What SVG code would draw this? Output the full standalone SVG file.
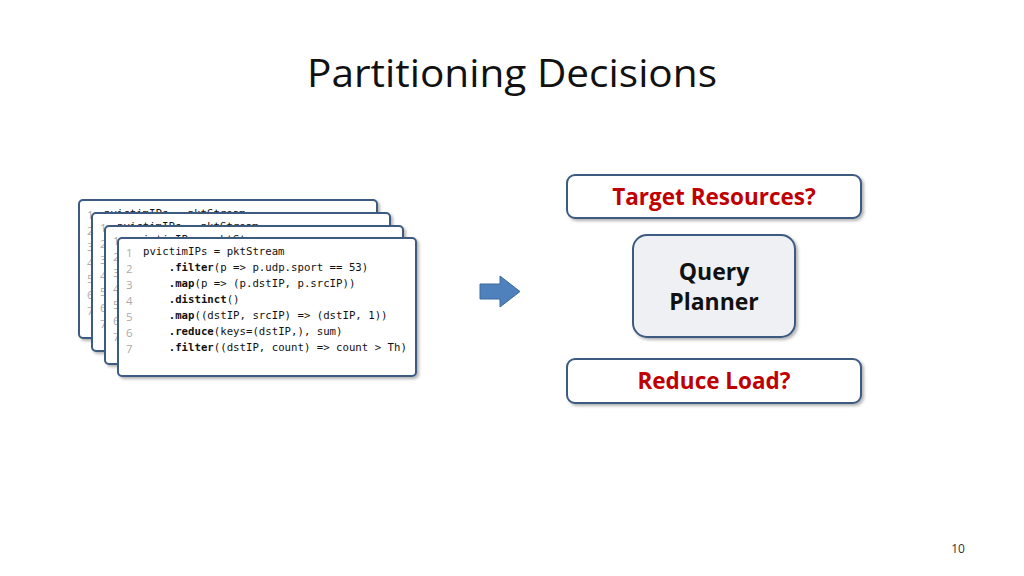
<svg xmlns="http://www.w3.org/2000/svg" width="1024" height="576" viewBox="0 0 1024 576">
<defs>
<filter id="sh" x="-10%" y="-10%" width="130%" height="130%"><feDropShadow dx="2" dy="2" stdDeviation="1.5" flood-color="#000" flood-opacity="0.3"/></filter>
<g id="code">
<rect x="0" y="0" width="298" height="138" rx="4" fill="#fff" stroke="#3d5a80" stroke-width="2" filter="url(#sh)"/>
<g class="ln"><text x="8" y="19">1</text><text x="8" y="35">2</text><text x="8" y="51">3</text><text x="8" y="67">4</text><text x="8" y="83">5</text><text x="8" y="99">6</text><text x="8" y="115">7</text></g>
<g class="cd">
<text x="25" y="17">pvictimIPs = pktStream</text>
<text x="25" y="33">    <tspan font-weight="bold">.filter</tspan>(p =&gt; p.udp.sport == 53)</text>
<text x="25" y="49">    <tspan font-weight="bold">.map</tspan>(p =&gt; (p.dstIP, p.srcIP))</text>
<text x="25" y="65">    <tspan font-weight="bold">.distinct</tspan>()</text>
<text x="25" y="81">    <tspan font-weight="bold">.map</tspan>((dstIP, srcIP) =&gt; (dstIP, 1))</text>
<text x="25" y="97">    <tspan font-weight="bold">.reduce</tspan>(keys=(dstIP,), sum)</text>
<text x="25" y="113">    <tspan font-weight="bold">.filter</tspan>((dstIP, count) =&gt; count &gt; Th)</text>
</g>
</g>
</defs>
<style>
.ln text{font-family:"Open Sans",sans-serif;font-size:11.5px;fill:#aaa}
.cd text{font-family:"DejaVu Sans Mono",monospace;font-size:10.7px;fill:#111;white-space:pre}
.box{fill:#fff;stroke:#3d5a80;stroke-width:2}
.q{font-family:"Open Sans",sans-serif;font-weight:bold;font-size:22.5px;fill:#c00000;text-anchor:middle}
.p{font-family:"Open Sans",sans-serif;font-weight:bold;font-size:23px;fill:#111;text-anchor:middle}
</style>
<rect width="1024" height="576" fill="#fff"/>
<text x="512" y="87" text-anchor="middle" font-family="Open Sans, sans-serif" font-size="39" fill="#111" textLength="410" lengthAdjust="spacingAndGlyphs">Partitioning Decisions</text>
<g id="code-stack">
<use href="#code" x="79" y="200"/>
<use href="#code" x="92" y="213"/>
<use href="#code" x="105" y="226"/>
<use href="#code" x="118" y="238"/>
</g>
<g id="connectors">
<polygon points="480,284 500,284 500,276 520,291.5 500,307 500,299 480,299" fill="#4f81bd" stroke="#3d6a9e" stroke-width="1"/>
</g>
<g id="target"><rect class="box" x="567" y="175" width="294" height="43" rx="8" filter="url(#sh)"/><text class="q" x="714" y="205">Target Resources?</text></g>
<g id="planner"><rect x="633" y="235" width="162" height="102" rx="14" fill="#eef0f3" stroke="#3d5a80" stroke-width="2" filter="url(#sh)"/><text class="p" x="714" y="280">Query</text><text class="p" x="714" y="310">Planner</text></g>
<g id="reduce"><rect class="box" x="567" y="359" width="294" height="44" rx="8" filter="url(#sh)"/><text class="q" x="714" y="389">Reduce Load?</text></g>
<text x="958" y="553" text-anchor="middle" font-family="Open Sans, sans-serif" font-size="12" fill="#333">10</text>
</svg>
